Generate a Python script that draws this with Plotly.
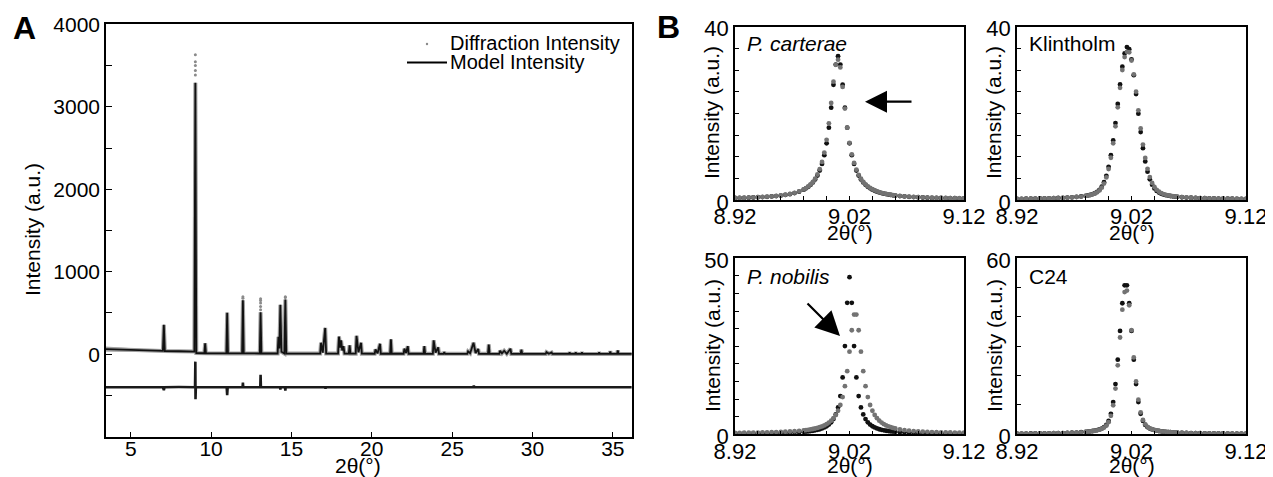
import plotly.graph_objects as go

# The page puts the figure 8 px in from the top-left corner, so the figure is
# laid out 8 px smaller and every reference pixel position is shifted by 8.
OFF = 8
W, H = 1273 - OFF, 477 - OFF
FONT = "Liberation Sans, Arial, sans-serif"

# ---------------- Panel A data ----------------
MODEL_X = [3.46, 4.0, 5.0, 6.0,
           7.00, 7.06, 7.12, 8.0,
           8.96, 9.02, 9.08,
           9.58, 9.63, 9.68,
           10.95, 11.00, 11.05,
           11.93, 11.98, 12.03,
           13.03, 13.08, 13.13,
           14.14, 14.19, 14.25, 14.31, 14.38, 14.56, 14.62, 14.68,
           16.79, 16.84, 16.95, 17.10, 17.16,
           17.90, 17.96, 18.03, 18.09, 18.16, 18.24, 18.30,
           18.57, 18.62, 18.67,
           19.00, 19.05, 19.17, 19.33, 19.38,
           20.18, 20.23, 20.36, 20.51, 20.56,
           21.14, 21.19, 21.24,
           21.98, 22.03, 22.13, 22.24, 22.29,
           23.22, 23.27, 23.32,
           23.80, 23.85, 23.97, 24.13, 24.18,
           24.46, 24.51, 24.56,
           25.94, 25.99, 26.12, 26.33, 26.46, 26.62, 26.67,
           27.23, 27.28, 27.33,
           27.93, 27.98, 28.10, 28.24, 28.40, 28.63, 28.68,
           29.26, 29.31, 29.36,
           30.82, 30.87, 31.02, 31.19, 31.24,
           32.26, 32.31, 32.36,
           32.64, 32.69, 32.74,
           33.03, 33.08, 33.13,
           34.10, 34.15, 34.20,
           34.79, 34.84, 34.89,
           35.26, 35.31, 35.36, 36.18]
MODEL_Y = [62, 58, 50, 44,
           40, 357, 39, 36,
           32, 3292, 14,
           12, 133, 12,
           10, 504, 10,
           10, 655, 10,
           9, 508, 9,
           9, 210, 70, 600, 30, 9, 664, 9,
           8, 139, 20, 319, 8,
           8, 214, 80, 168, 45, 97, 8,
           8, 109, 7,
           7, 223, 25, 139, 7,
           6, 59, 10, 126, 6,
           6, 181, 6,
           6, 67, 15, 97, 6,
           6, 97, 6,
           5, 168, 20, 84, 5,
           5, 25, 5,
           5, 34, 12, 139, 15, 63, 5,
           5, 118, 5,
           4, 42, 10, 42, 6, 67, 4,
           4, 55, 4,
           4, 25, 6, 21, 4,
           4, 21, 4,
           4, 21, 4,
           4, 21, 4,
           3, 21, 3,
           3, 34, 3,
           3, 46, 3, 3]

# observed points standing above the model at the strongest reflections
DIFF_TOP_X = [9.02, 9.02, 9.02, 9.02, 9.02, 11.98, 11.98,
              13.08, 13.08, 13.08, 13.08, 13.08, 14.62, 14.62]
DIFF_TOP_Y = [3385, 3440, 3500, 3545, 3630, 680, 697,
              540, 580, 620, 650, 672, 688, 697]

# spread of the observed data at low angle
NOISE_X = [3.46, 4.5, 5.5, 6.5, 7.0]
NOISE_LO = [30, 28, 27, 26, 28]
NOISE_HI = [95, 82, 70, 58, 48]

# difference curve (observed - model), offset
RES_X = [3.46, 5.0, 7.0, 7.06, 7.1, 8.0, 9.0, 9.02, 9.03, 9.05,
         9.63, 10.97, 11.0, 11.03, 11.96, 11.98, 12.0, 13.06, 13.08, 13.10,
         14.29, 14.31, 14.33, 14.60, 14.62, 14.64, 17.1, 17.12, 17.14, 20.0,
         26.33, 26.35, 26.37, 30.0, 36.18]
RES_Y = [-400, -402, -400, -435, -400, -398, -400, -90, -545, -400,
         -400, -400, -495, -400, -400, -345, -400, -400, -250, -400,
         -400, -430, -400, -400, -440, -400, -400, -418, -400, -400,
         -400, -378, -400, -400, -400]

# ---------------- Panel B data ----------------
X_B = [8.920, 8.924, 8.928, 8.932, 8.936, 8.940, 8.944, 8.948, 8.952, 8.956, 8.960, 8.964, 8.968, 8.972, 8.976,
       8.980, 8.982, 8.984, 8.986, 8.988, 8.990, 8.992, 8.994, 8.996, 8.998,
       9.000, 9.002, 9.004, 9.006, 9.008, 9.010, 9.012, 9.014, 9.016, 9.018,
       9.020, 9.022, 9.024, 9.026, 9.028, 9.030, 9.032, 9.034, 9.036, 9.038,
       9.040, 9.042, 9.044, 9.046, 9.048, 9.050, 9.052, 9.054, 9.056, 9.058, 9.060,
       9.064, 9.068, 9.072, 9.076, 9.080, 9.084, 9.088, 9.092, 9.096, 9.100, 9.104, 9.108, 9.112, 9.116, 9.120]

CARTERAE_BLACK = [0.46, 0.48, 0.51, 0.54, 0.58, 0.63, 0.68, 0.74, 0.82, 0.91, 1.02, 1.17, 1.35, 1.60, 1.93,
                  2.39, 2.69, 3.05, 3.50, 4.05, 4.75, 5.64, 6.80, 8.32, 10.35,
                  13.08, 16.70, 21.32, 26.60, 31.26, 33.20, 31.26, 26.60, 21.32, 16.70,
                  13.08, 10.35, 8.32, 6.80, 5.64, 4.75, 4.05, 3.50, 3.05, 2.69,
                  2.39, 2.14, 1.93, 1.75, 1.60, 1.47, 1.36, 1.26, 1.17, 1.09, 1.02,
                  0.91, 0.82, 0.74, 0.68, 0.63, 0.58, 0.54, 0.51, 0.48, 0.46, 0.44, 0.42, 0.40, 0.39, 0.37]
CARTERAE_GRAY = [0.48, 0.50, 0.53, 0.56, 0.60, 0.65, 0.70, 0.77, 0.85, 0.94, 1.06, 1.21, 1.40, 1.66, 2.00,
                 2.45, 2.76, 3.13, 3.60, 4.18, 4.92, 5.88, 7.12, 8.78, 10.95,
                 13.90, 17.70, 22.40, 27.30, 31.20, 32.40, 30.60, 26.10, 21.10, 16.70,
                 13.20, 10.55, 8.55, 7.00, 5.82, 4.90, 4.18, 3.62, 3.16, 2.79,
                 2.48, 2.22, 2.00, 1.81, 1.65, 1.52, 1.40, 1.30, 1.21, 1.13, 1.06,
                 0.94, 0.85, 0.77, 0.70, 0.65, 0.60, 0.56, 0.53, 0.50, 0.48, 0.46, 0.44, 0.42, 0.40, 0.39]

KLINT_BLACK = [0.27, 0.28, 0.30, 0.31, 0.33, 0.35, 0.37, 0.39, 0.42, 0.46, 0.50, 0.56, 0.62, 0.71, 0.82,
               0.96, 1.06, 1.18, 1.34, 1.56, 1.88, 2.35, 3.06, 4.10, 5.59,
               7.65, 10.35, 13.75, 17.75, 22.18, 26.68, 30.77, 33.83, 35.29, 34.79,
               32.47, 28.81, 24.45, 19.93, 15.68, 11.97, 8.91, 6.54, 4.78, 3.53,
               2.67, 2.10, 1.71, 1.44, 1.26, 1.12, 1.01, 0.92, 0.85, 0.79, 0.73,
               0.64, 0.57, 0.52, 0.47, 0.43, 0.40, 0.37, 0.35, 0.33, 0.32, 0.30, 0.29, 0.28, 0.27, 0.26]
KLINT_GRAY = [0.26, 0.27, 0.29, 0.30, 0.32, 0.34, 0.36, 0.38, 0.41, 0.44, 0.48, 0.54, 0.60, 0.69, 0.80,
              0.94, 1.03, 1.15, 1.30, 1.50, 1.78, 2.20, 2.85, 3.80, 5.20,
              7.15, 9.75, 13.10, 17.00, 21.40, 25.90, 30.00, 33.00, 34.20, 34.10,
              32.20, 29.00, 25.00, 20.70, 16.50, 12.80, 9.70, 7.20, 5.30, 3.95,
              3.00, 2.35, 1.90, 1.58, 1.36, 1.20, 1.07, 0.97, 0.89, 0.82, 0.76,
              0.68, 0.60, 0.54, 0.49, 0.45, 0.42, 0.39, 0.36, 0.34, 0.33, 0.31, 0.30, 0.29, 0.28, 0.27]

NOBILIS_BLACK = [0.24, 0.25, 0.26, 0.27, 0.28, 0.29, 0.31, 0.32, 0.34, 0.37, 0.40, 0.44, 0.48, 0.54, 0.61,
                 0.71, 0.77, 0.83, 0.92, 1.01, 1.13, 1.27, 1.44, 1.66, 1.94,
                 2.29, 2.77, 3.41, 4.32, 5.64, 7.64, 10.85, 16.15, 25.05, 37.35,
                 44.65, 37.35, 25.05, 16.15, 10.85, 7.64, 5.64, 4.32, 3.41, 2.77,
                 2.29, 1.94, 1.66, 1.44, 1.27, 1.13, 1.01, 0.92, 0.83, 0.77, 0.71,
                 0.61, 0.54, 0.48, 0.44, 0.40, 0.37, 0.34, 0.32, 0.31, 0.29, 0.28, 0.27, 0.26, 0.25, 0.24]
NOBILIS_GRAY = [0.41, 0.42, 0.44, 0.46, 0.47, 0.49, 0.52, 0.55, 0.58, 0.62, 0.67, 0.72, 0.79, 0.87, 0.98,
                1.11, 1.19, 1.28, 1.38, 1.50, 1.65, 1.81, 2.01, 2.25, 2.53,
                2.88, 3.32, 3.87, 4.57, 5.48, 6.69, 8.33, 10.57, 13.67, 17.94,
                23.46, 29.56, 34.00, 34.00, 29.56, 23.46, 17.94, 13.67, 10.57, 8.33,
                6.69, 5.48, 4.57, 3.87, 3.32, 2.88, 2.53, 2.25, 2.01, 1.81, 1.65,
                1.38, 1.19, 1.04, 0.92, 0.83, 0.75, 0.69, 0.64, 0.60, 0.56, 0.53, 0.51, 0.48, 0.46, 0.45]

C24_BLACK = [0.24, 0.25, 0.26, 0.27, 0.29, 0.30, 0.32, 0.34, 0.36, 0.39, 0.43, 0.47, 0.53, 0.60, 0.70,
             0.82, 0.91, 1.00, 1.12, 1.26, 1.43, 1.65, 1.96, 2.42, 3.20,
             4.56, 6.97, 11.00, 17.12, 25.44, 35.24, 44.68, 50.80, 50.80, 44.68,
             35.24, 25.44, 17.12, 11.00, 6.97, 4.56, 3.20, 2.42, 1.96, 1.65,
             1.43, 1.26, 1.12, 1.00, 0.91, 0.82, 0.76, 0.70, 0.65, 0.60, 0.56,
             0.50, 0.45, 0.41, 0.38, 0.35, 0.33, 0.31, 0.29, 0.28, 0.27, 0.26, 0.25, 0.24, 0.23, 0.23]
C24_GRAY = [0.23, 0.24, 0.25, 0.26, 0.28, 0.29, 0.31, 0.33, 0.35, 0.38, 0.41, 0.45, 0.51, 0.58, 0.68,
            0.80, 0.88, 0.97, 1.08, 1.21, 1.37, 1.58, 1.86, 2.28, 2.95,
            4.15, 6.30, 9.90, 15.60, 23.50, 33.00, 42.50, 48.50, 49.00, 44.00,
            35.50, 26.20, 18.00, 11.80, 7.50, 4.90, 3.40, 2.55, 2.05, 1.72,
            1.48, 1.30, 1.15, 1.03, 0.93, 0.85, 0.78, 0.72, 0.66, 0.61, 0.57,
            0.52, 0.47, 0.43, 0.39, 0.36, 0.34, 0.32, 0.30, 0.29, 0.28, 0.27, 0.26, 0.25, 0.24, 0.24]

SAMPLE_NAMES = ["<i>P. carterae</i>", "Klintholm", "<i>P. nobilis</i>", "C24"]
SAMPLE_SERIES = [(CARTERAE_BLACK, CARTERAE_GRAY), (KLINT_BLACK, KLINT_GRAY),
                 (NOBILIS_BLACK, NOBILIS_GRAY), (C24_BLACK, C24_GRAY)]
SAMPLE_YMAX = [40, 40, 50, 60]
SAMPLE_YSTEP = [5, 5, 5, 10]

A_XTICKS = [5, 10, 15, 20, 25, 30, 35]
A_YTICKS = [-500, 0, 500, 1000, 1500, 2000, 2500, 3000, 3500, 4000]
A_YLABELS = ["", "0", "", "1000", "", "2000", "", "3000", "", "4000"]
B_XTICKS = [8.92, 8.94, 8.96, 8.98, 9.00, 9.02, 9.04, 9.06, 9.08, 9.10, 9.12]
B_XLABELS = ["8.92", "", "", "", "", "9.02", "", "", "", "", "9.12"]

BLACK = "#111111"
GRAY = "#737373"

# ---------------- geometry (reference pixels -> paper fractions) ----------------
def px_x(p):
    return (p - OFF) / W

def px_y(p):
    return 1 - (p - OFF) / H

A_DOM_X = [px_x(106), px_x(631.8)]
A_DOM_Y = [px_y(436.7), px_y(24.3)]
B_DOM_X = [[px_x(735), px_x(964)], [px_x(1017), px_x(1246)]]
B_DOM_Y = [[px_y(200), px_y(26.7)], [px_y(434.3), px_y(258.3)]]

fig = go.Figure()

# Panel A traces
fig.add_trace(go.Scatter(x=NOISE_X, y=NOISE_LO, mode="lines", line=dict(width=0, color="#9a9a9a"),
                         xaxis="x", yaxis="y", showlegend=False, hoverinfo="skip"))
fig.add_trace(go.Scatter(x=NOISE_X, y=NOISE_HI, mode="lines", line=dict(width=0, color="#9a9a9a"),
                         fill="tonexty", fillcolor="rgba(150,150,150,0.75)",
                         xaxis="x", yaxis="y", showlegend=False, hoverinfo="skip"))
fig.add_trace(go.Scatter(x=MODEL_X, y=MODEL_Y, mode="lines", line=dict(width=4, color="#a0a0a0"),
                         xaxis="x", yaxis="y", showlegend=False))
fig.add_trace(go.Scatter(x=MODEL_X, y=MODEL_Y, mode="lines", name="Model Intensity",
                         line=dict(width=1.8, color=BLACK), xaxis="x", yaxis="y", showlegend=False))
fig.add_trace(go.Scatter(x=DIFF_TOP_X, y=DIFF_TOP_Y, mode="markers", name="Diffraction Intensity",
                         marker=dict(size=3, color="#8a8a8a"), xaxis="x", yaxis="y", showlegend=False))
fig.add_trace(go.Scatter(x=RES_X, y=RES_Y, mode="lines", line=dict(width=2.6, color="#1a1a1a"),
                         xaxis="x", yaxis="y", showlegend=False))

# Panel B traces
for i, (blk, gry) in enumerate(SAMPLE_SERIES):
    ax = str(i + 2)
    fig.add_trace(go.Scatter(x=X_B, y=blk, mode="markers", marker=dict(size=4.8, color=BLACK),
                             xaxis="x" + ax, yaxis="y" + ax, showlegend=False))
    fig.add_trace(go.Scatter(x=X_B, y=gry, mode="markers", marker=dict(size=4.8, color=GRAY),
                             xaxis="x" + ax, yaxis="y" + ax, showlegend=False))

axis_common = dict(showline=True, linecolor="black", linewidth=1.6, mirror=True,
                   ticks="inside", tickcolor="black", tickwidth=1.4, automargin=False,
                   showgrid=False, zeroline=False, fixedrange=True)

layout = dict(
    width=W, height=H, margin=dict(l=0, r=0, t=0, b=0, pad=0), autosize=False,
    paper_bgcolor="white", plot_bgcolor="white",
    font=dict(family=FONT, color="black", size=20),
    showlegend=False,
)
layout["xaxis"] = dict(axis_common, domain=A_DOM_X, range=[3.46, 36.18], anchor="y",
                       tickvals=A_XTICKS, ticklen=5, tickfont=dict(size=21), ticklabelstandoff=-8)
layout["yaxis"] = dict(axis_common, domain=A_DOM_Y, range=[-1000, 4000], anchor="x",
                       tickvals=A_YTICKS, ticktext=A_YLABELS, ticklen=6, tickfont=dict(size=21))

for i in range(4):
    n = i + 2
    col = i % 2
    row = i // 2
    yticks = list(range(0, SAMPLE_YMAX[i] + 1, SAMPLE_YSTEP[i]))
    ylabels = [str(v) if v in (0, SAMPLE_YMAX[i]) else "" for v in yticks]
    layout["xaxis%d" % n] = dict(axis_common, domain=B_DOM_X[col], range=[8.92, 9.12], anchor="y%d" % n,
                                 tickvals=B_XTICKS, ticktext=B_XLABELS, ticklen=4, tickfont=dict(size=22),
                                 ticklabelstandoff=-4)
    layout["yaxis%d" % n] = dict(axis_common, domain=B_DOM_Y[row], range=[0, SAMPLE_YMAX[i]],
                                 anchor="x%d" % n, tickvals=yticks, ticktext=ylabels, ticklen=4,
                                 tickfont=dict(size=22), ticklabelshift=2)

fig.update_layout(**layout)

ann = []
def text(x, y, s, size=21, angle=0, xanchor="center", bold=False):
    ann.append(dict(x=px_x(x), y=px_y(y), xref="paper", yref="paper", text=("<b>%s</b>" % s) if bold else s,
                    showarrow=False, textangle=angle, xanchor=xanchor, yanchor="middle",
                    font=dict(family=FONT, size=size, color="black")))

text(24, 28, "A", size=32, bold=True)
text(668, 27, "B", size=32, bold=True)
text(33, 230, "Intensity (a.u.)", angle=-90)
text(358, 465, "2θ(°)")
# legend
text(448, 43, "Diffraction Intensity", size=20, xanchor="left")
text(448, 62, "Model Intensity", size=20, xanchor="left")

for i in range(4):
    col = i % 2
    row = i // 2
    x0 = 735 if col == 0 else 1017
    ycen = 113 if row == 0 else 346
    ybot = 232 if row == 0 else 465
    ylab = 43 if row == 0 else 276
    text(x0 - 23, ycen, "Intensity (a.u.)", angle=-90)
    text(x0 + 114.5, ybot, "2θ(°)")
    text(x0 + 10, ylab, SAMPLE_NAMES[i], size=21, xanchor="left")

# arrows
ann.append(dict(x=px_x(865), y=px_y(101.7), xref="paper", yref="paper", text="",
                showarrow=True, ax=48, ay=0, arrowhead=2, arrowsize=2.0, arrowwidth=2.2, arrowcolor="black"))
ann.append(dict(x=px_x(840), y=px_y(336), xref="paper", yref="paper", text="",
                showarrow=True, ax=-34, ay=-34, arrowhead=2, arrowsize=2.2, arrowwidth=2.2, arrowcolor="black"))

shapes = [
    dict(type="line", xref="paper", yref="paper", x0=px_x(407), x1=px_x(447), y0=px_y(62.5), y1=px_y(62.5),
         line=dict(color="black", width=2)),
    dict(type="circle", xref="paper", yref="paper", x0=px_x(425.8), x1=px_x(428.2), y0=px_y(45.2), y1=px_y(42.8),
         line=dict(width=0), fillcolor="#8a8a8a"),
]
fig.update_layout(annotations=ann, shapes=shapes)

fig.write_html("out.html")
